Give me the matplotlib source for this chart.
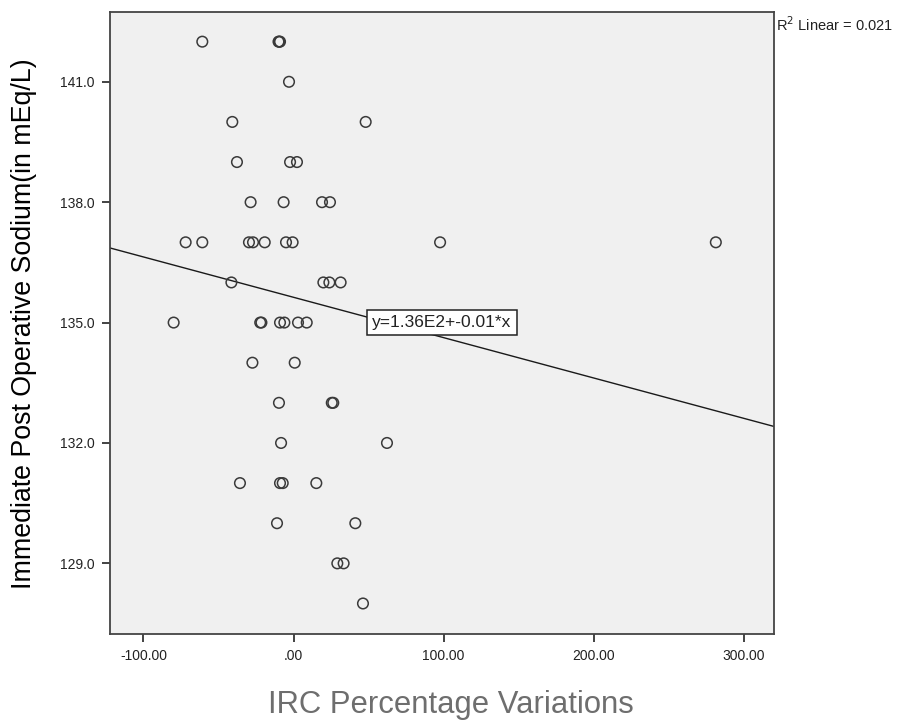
import matplotlib
matplotlib.use('Agg')
import matplotlib.pyplot as plt
import numpy as np

plt.rcParams['font.family'] = ['Liberation Sans', 'DejaVu Sans']

# --- data ---
irc_pct = [
    -60.8, -10, -9.5, -9,                                  # 142
    -3,                                                    # 141
    -40.8, 48.1,                                           # 140
    -37.7, -2.3, 2.3,                                      # 139
    -28.6, -6.6, 19, 24.3,                                 # 138
    -71.9, -60.8, -29.7, -27, -19.2, -5, -0.6, 97.7, 281.5,  # 137
    -41.4, 19.9, 23.9, 31.4,                               # 136
    -79.9, -22.2, -21.4, -9, -6.1, 3, 8.8,                 # 135
    -27.4, 0.8,                                            # 134
    -9.7, 25.5, 26.5,                                      # 133
    -8.3, 62.3,                                            # 132
    -35.7, -9, -7.2, 15.2,                                 # 131
    -11, 41.2,                                             # 130
    29.2, 33.4,                                            # 129
    46.3,                                                  # 128
]
sodium = (
    [142] * 4 + [141] + [140] * 2 + [139] * 3 + [138] * 4 + [137] * 9
    + [136] * 4 + [135] * 7 + [134] * 2 + [133] * 3 + [132] * 2
    + [131] * 4 + [130] * 2 + [129] * 2 + [128]
)

# fit line as printed by SPSS
INTERCEPT = 135.63
SLOPE = -0.01005
R2 = 0.021

X_MIN, X_MAX = -122.3, 320.3
Y_MIN, Y_MAX = 127.24, 142.74

fig = plt.figure(figsize=(8.99, 7.21), dpi=100)
ax = fig.add_axes([0.1224, 0.1207, 0.861 - 0.1224, 0.9834 - 0.1207])
ax.set_facecolor('#f0f0f0')

ax.scatter(irc_pct, sodium, s=58, facecolors='none', edgecolors='#3a3a3a',
           linewidths=1.1, zorder=3)

xl = np.array([X_MIN, X_MAX])
ax.plot(xl, INTERCEPT + SLOPE * xl, color='#1a1a1a', lw=1.0, zorder=2)

ax.text(99, 135, 'y=1.36E2+-0.01*x', fontsize=12.5, ha='center', va='center',
        color='#222222', zorder=4,
        bbox=dict(boxstyle='square,pad=0.3', fc='white', ec='#222222', lw=1.1))

ax.set_xlim(X_MIN, X_MAX)
ax.set_ylim(Y_MIN, Y_MAX)
ax.set_xticks([-100, 0, 100, 200, 300])
ax.set_xticklabels(['-100.00', '.00', '100.00', '200.00', '300.00'])
ax.set_yticks([129, 132, 135, 138, 141])
ax.set_yticklabels(['129.0', '132.0', '135.0', '138.0', '141.0'])
ax.tick_params(direction='out', length=6, width=1.2, labelsize=10,
               colors='#222222', pad=5)
for sp in ax.spines.values():
    sp.set_color('#444444')
    sp.set_linewidth(1.3)

# axis titles placed where the reference has them
fig.text(24 / 899, 1 - 324 / 721, 'Immediate Post Operative Sodium(in mEq/L)',
         rotation=90, ha='center', va='center', fontsize=19.3, color='black')
fig.text(451 / 899, 1 - 713 / 721, 'IRC Percentage Variations',
         ha='center', va='baseline', fontsize=22.3, color='#6e6e6e')

fig.text(776 / 899, 1 - 25 / 721, f'R$^2$ Linear = {R2:.3f}', fontsize=10.5,
         va='center', color='#222222')

fig.savefig('out.png', dpi=100)
